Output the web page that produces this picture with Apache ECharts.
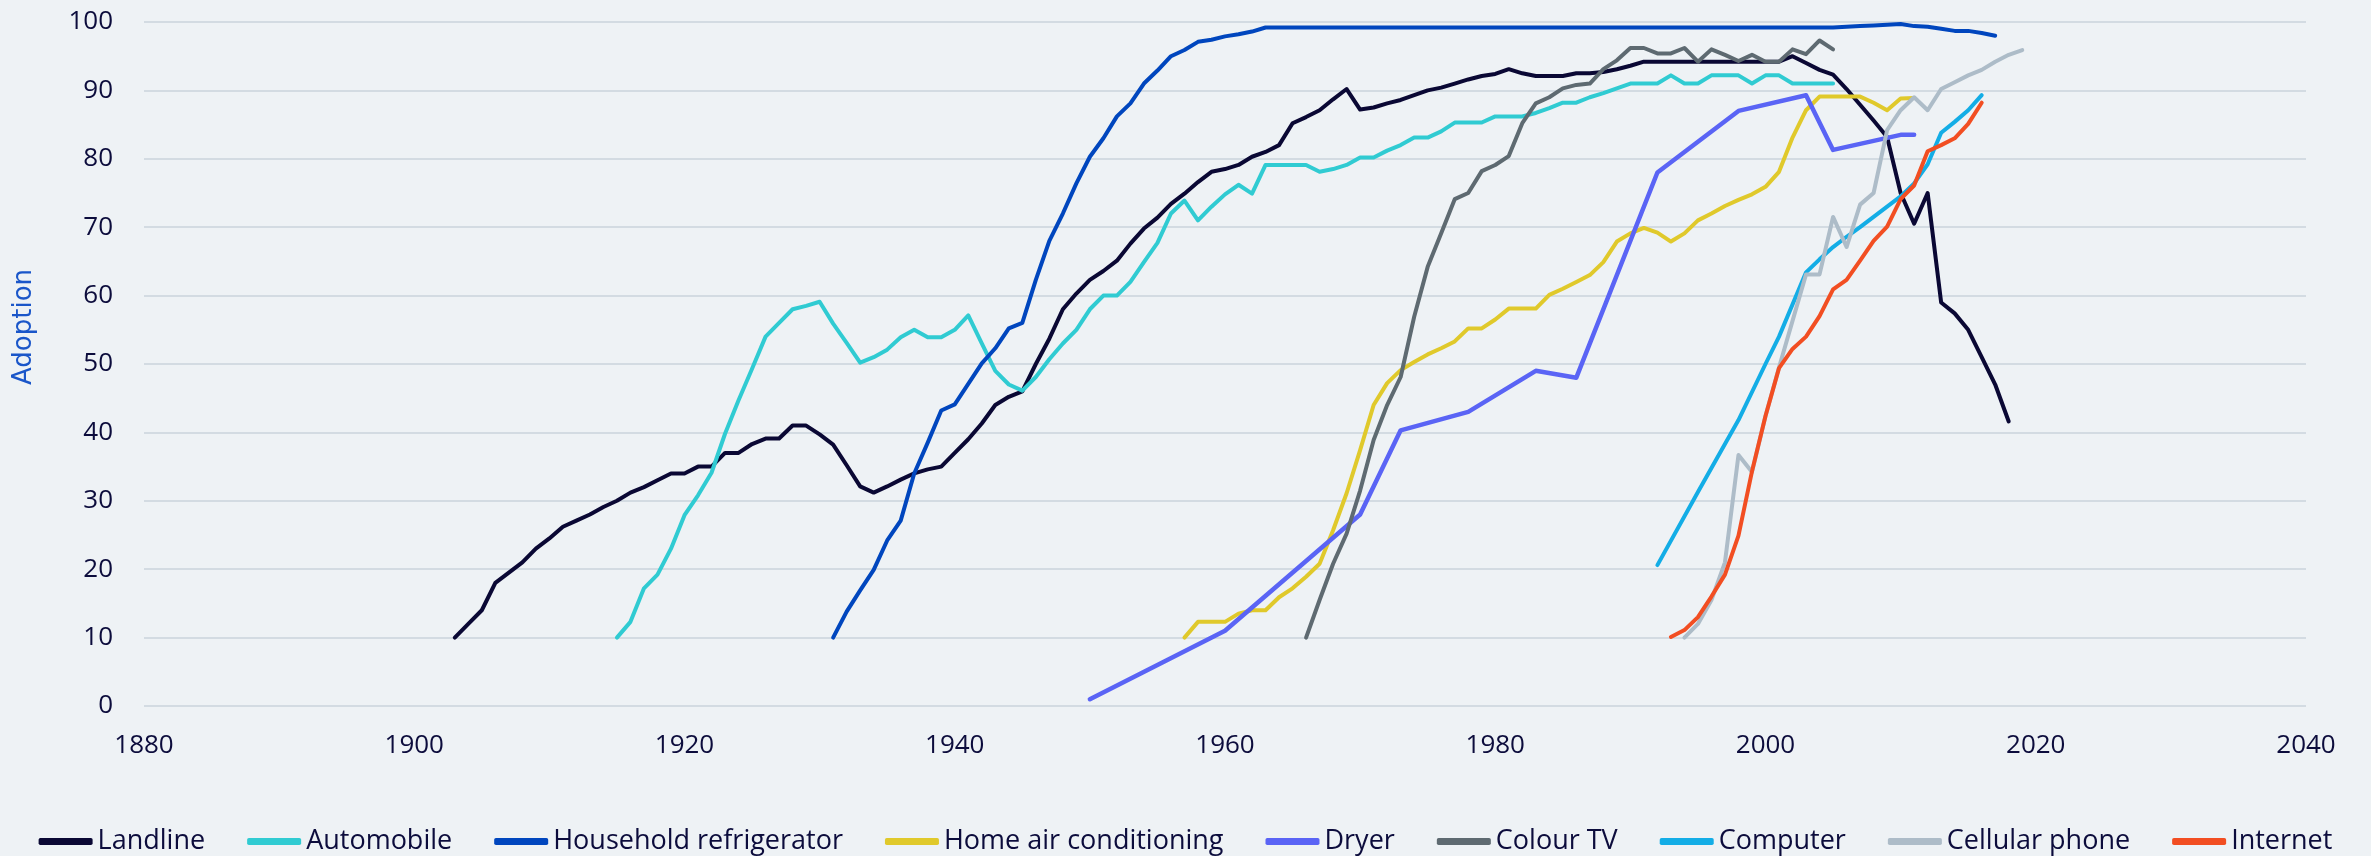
<!DOCTYPE html>
<html>
<head>
<meta charset="utf-8">
<title>Technology adoption</title>
<script src="https://cdn.jsdelivr.net/npm/echarts@6.0.0/dist/echarts.min.js"></script>
<style>
    html, body { margin: 0; padding: 0; background: #eef2f5; }
    #adoption { width: 2371px; height: 856px; }
</style>
</head>
<body>
<div id="adoption"></div>
<script>
// [year, share of households in %]
var landline = [
    [1903, 10], [1904, 12], [1905, 14], [1906, 18], [1907, 19.5], [1908, 21], [1909, 23], [1910, 24.5],
    [1911, 26.2], [1912, 27.1], [1913, 28], [1914, 29.1], [1915, 30], [1916, 31.2], [1917, 32], [1918, 33],
    [1919, 34], [1920, 34], [1921, 35], [1922, 35], [1923, 37], [1924, 37], [1925, 38.3], [1926, 39.1],
    [1927, 39.1], [1928, 41], [1929, 41], [1930, 39.7], [1931, 38.2], [1932, 35.2], [1933, 32.1], [1934, 31.2],
    [1935, 32.1], [1936, 33.1], [1937, 34], [1938, 34.6], [1939, 35], [1940, 37], [1941, 39], [1942, 41.3],
    [1943, 44], [1944, 45.2], [1945, 46], [1946, 50], [1947, 53.7], [1948, 58], [1949, 60.3], [1950, 62.3],
    [1951, 63.6], [1952, 65.1], [1953, 67.6], [1954, 69.8], [1955, 71.4], [1956, 73.4], [1957, 74.9], [1958, 76.6],
    [1959, 78.1], [1960, 78.5], [1961, 79.1], [1962, 80.3], [1963, 81], [1964, 82], [1965, 85.2], [1966, 86.1],
    [1967, 87.1], [1968, 88.7], [1969, 90.2], [1970, 87.2], [1971, 87.5], [1972, 88.1], [1973, 88.6], [1974, 89.3],
    [1975, 90], [1976, 90.4], [1977, 91], [1978, 91.6], [1979, 92.1], [1980, 92.4], [1981, 93.1], [1982, 92.5],
    [1983, 92.1], [1984, 92.1], [1985, 92.1], [1986, 92.5], [1987, 92.5], [1988, 92.7], [1989, 93.1], [1990, 93.6],
    [1991, 94.2], [2001, 94.2], [2002, 95], [2003, 94], [2004, 93], [2005, 92.3], [2006, 90.2], [2007, 87.9],
    [2008, 85.6], [2009, 83.2], [2010, 75], [2011, 70.5], [2012, 75], [2013, 59], [2014, 57.4], [2015, 55],
    [2016, 51], [2017, 47], [2018, 41.6]
];
var automobile = [
    [1915, 10], [1916, 12.3], [1917, 17.2], [1918, 19.2], [1919, 23], [1920, 27.9], [1921, 30.8], [1922, 34.1],
    [1923, 39.8], [1924, 44.7], [1925, 49.3], [1926, 54], [1927, 56], [1928, 58], [1929, 58.5], [1930, 59.1],
    [1931, 55.9], [1932, 53.1], [1933, 50.2], [1934, 51], [1935, 52.1], [1936, 53.9], [1937, 55], [1938, 53.9],
    [1939, 53.9], [1940, 55], [1941, 57.1], [1942, 53], [1943, 49], [1944, 47], [1945, 46.1], [1946, 48.1],
    [1947, 50.7], [1948, 53], [1949, 55], [1950, 58], [1951, 60], [1952, 60], [1953, 62], [1954, 64.9],
    [1955, 67.7], [1956, 72], [1957, 73.9], [1958, 71], [1959, 73], [1960, 74.8], [1961, 76.2], [1962, 74.9],
    [1963, 79.1], [1964, 79.1], [1965, 79.1], [1966, 79.1], [1967, 78.1], [1968, 78.5], [1969, 79.1], [1970, 80.2],
    [1971, 80.2], [1972, 81.2], [1973, 82], [1974, 83.1], [1975, 83.1], [1976, 84], [1977, 85.3], [1978, 85.3],
    [1979, 85.3], [1980, 86.2], [1981, 86.2], [1982, 86.2], [1983, 86.7], [1984, 87.4], [1985, 88.2], [1986, 88.2],
    [1987, 89], [1988, 89.6], [1989, 90.3], [1990, 91], [1991, 91], [1992, 91], [1993, 92.2], [1994, 91],
    [1995, 91], [1996, 92.2], [1997, 92.2], [1998, 92.2], [1999, 91], [2000, 92.2], [2001, 92.2], [2002, 91],
    [2003, 91], [2004, 91], [2005, 91]
];
var refrigerator = [
    [1931, 10], [1932, 13.8], [1933, 16.9], [1934, 19.9], [1935, 24.2], [1936, 27.1], [1937, 34], [1938, 38.5],
    [1939, 43.2], [1940, 44.1], [1941, 47.1], [1942, 50.1], [1943, 52.3], [1944, 55.2], [1945, 56], [1946, 62.3],
    [1947, 68], [1948, 72], [1949, 76.4], [1950, 80.3], [1951, 83], [1952, 86.2], [1953, 88.1], [1954, 91],
    [1955, 92.9], [1956, 95], [1957, 95.9], [1958, 97.1], [1959, 97.4], [1960, 97.9], [1961, 98.2], [1962, 98.6],
    [1963, 99.2], [2005, 99.2], [2006, 99.3], [2007, 99.4], [2008, 99.5], [2009, 99.6], [2010, 99.7], [2011, 99.4],
    [2012, 99.3], [2013, 99], [2014, 98.7], [2015, 98.7], [2016, 98.4], [2017, 98]
];
var airConditioning = [
    [1957, 10], [1958, 12.3], [1959, 12.3], [1960, 12.3], [1961, 13.5], [1962, 14], [1963, 14], [1964, 15.9],
    [1965, 17.2], [1966, 18.9], [1967, 20.8], [1968, 25.7], [1969, 31.1], [1970, 37.4], [1971, 44], [1972, 47.2],
    [1973, 49.1], [1974, 50.3], [1975, 51.4], [1976, 52.3], [1977, 53.3], [1978, 55.2], [1979, 55.2], [1980, 56.5],
    [1981, 58.1], [1982, 58.1], [1983, 58.1], [1984, 60.1], [1985, 61], [1986, 62], [1987, 63], [1988, 64.9],
    [1989, 67.9], [1990, 69.1], [1991, 69.9], [1992, 69.2], [1993, 67.9], [1994, 69.1], [1995, 71], [1996, 72],
    [1997, 73.1], [1998, 74], [1999, 74.8], [2000, 75.9], [2001, 78.1], [2002, 83.1], [2003, 87.1], [2004, 89.1],
    [2005, 89.1], [2006, 89.1], [2007, 89.1], [2008, 88.2], [2009, 87.1], [2010, 88.8], [2011, 88.9]
];
var dryer = [
    [1950, 1], [1960, 11], [1970, 28], [1973, 40.3], [1978, 43], [1983, 49], [1986, 48], [1992, 78],
    [1998, 87], [2003, 89.3], [2005, 81.3], [2010, 83.5], [2011, 83.5]
];
var colourTv = [
    [1966, 10], [1967, 15.5], [1968, 20.8], [1969, 25.2], [1970, 31.5], [1971, 38.9], [1972, 44], [1973, 48.1],
    [1974, 56.9], [1975, 64.2], [1976, 69.1], [1977, 74.1], [1978, 75], [1979, 78.2], [1980, 79.1], [1981, 80.4],
    [1982, 85.2], [1983, 88.1], [1984, 89], [1985, 90.3], [1986, 90.8], [1987, 91], [1988, 93.1], [1989, 94.4],
    [1990, 96.2], [1991, 96.2], [1992, 95.4], [1993, 95.4], [1994, 96.2], [1995, 94.2], [1996, 96], [1997, 95.2],
    [1998, 94.3], [1999, 95.2], [2000, 94.2], [2001, 94.2], [2002, 96], [2003, 95.3], [2004, 97.3], [2005, 96]
];
var computer = [
    [1992, 20.6], [1995, 31.3], [1998, 41.8], [2000, 50], [2001, 54], [2003, 63.4], [2004, 65.3], [2005, 67.1],
    [2006, 68.6], [2007, 70], [2008, 71.5], [2009, 73], [2010, 74.5], [2011, 76.4], [2012, 79.2], [2013, 83.8],
    [2014, 85.4], [2015, 87.1], [2016, 89.3]
];
var cellularPhone = [
    [1994, 10], [1995, 12], [1996, 15.5], [1997, 21], [1998, 36.7], [1999, 34.2], [2000, 42.4], [2001, 49.5],
    [2002, 56.3], [2003, 63.1], [2004, 63.1], [2005, 71.5], [2006, 67.1], [2007, 73.3], [2008, 75], [2009, 84.2],
    [2010, 87.1], [2011, 89], [2012, 87.1], [2013, 90.2], [2014, 91.2], [2015, 92.2], [2016, 93], [2017, 94.2],
    [2018, 95.2], [2019, 95.9]
];
var internet = [
    [1993, 10.1], [1994, 11.1], [1995, 13], [1996, 16], [1997, 19.2], [1998, 24.9], [1999, 34.3], [2000, 42.4],
    [2001, 49.4], [2002, 52.2], [2003, 54], [2004, 57], [2005, 60.9], [2006, 62.3], [2007, 65.1], [2008, 68],
    [2009, 70.1], [2010, 74.1], [2011, 76.1], [2012, 81.1], [2013, 82], [2014, 83], [2015, 85.1], [2016, 88.2]
];

var seriesNames = ['Landline', 'Automobile', 'Household refrigerator', 'Home air conditioning', 'Dryer',
    'Colour TV', 'Computer', 'Cellular phone', 'Internet'];
var seriesData = [landline, automobile, refrigerator, airConditioning, dryer, colourTv, computer, cellularPhone, internet];
var seriesColors = ['#0a0834', '#30cbd2', '#0046be', '#e0c92b', '#5a64f5', '#5e6a71', '#13ade6', '#adbcc8', '#f24e22'];

var textColor = '#0c0c3c';
var labelFont = '"Open Sans", sans-serif';

var myChart = echarts.init(document.querySelector('#adoption'), null, {renderer: 'canvas'});

var series = seriesNames.map(function (name, i) {
    return {
        name: name,
        type: 'line',
        data: seriesData[i],
        showSymbol: false,
        symbol: 'none',
        lineStyle: {
            width: i === 4 ? 4.5 : 4,
            cap: 'round',
            join: 'round'
        }
    };
});

var option = {
    backgroundColor: '#eef2f5',
    animation: false,
    color: seriesColors,
    grid: {
        left: 144,
        right: 65,
        top: 22,
        bottom: 150
    },
    legend: {
        data: seriesNames,
        left: 'center',
        top: 828,
        padding: 0,
        icon: 'roundRect',
        itemWidth: 54,
        itemHeight: 7,
        itemGap: 42,
        textStyle: {
            color: textColor,
            fontSize: 27,
            fontFamily: labelFont
        }
    },
    xAxis: {
        type: 'value',
        min: 1880,
        max: 2040,
        interval: 20,
        axisLine: {show: false},
        axisTick: {show: false},
        splitLine: {show: false},
        axisLabel: {
            color: textColor,
            fontSize: 26,
            fontFamily: labelFont,
            margin: 27,
            formatter: function (value) {
                return String(value);
            }
        }
    },
    yAxis: {
        type: 'value',
        min: 0,
        max: 100,
        interval: 10,
        name: 'Adoption',
        nameLocation: 'middle',
        nameGap: 107,
        nameRotate: 90,
        nameTextStyle: {
            color: '#1a56c9',
            fontSize: 26,
            fontFamily: '"DejaVu Sans", sans-serif',
            padding: [0, 0, 0, 74]
        },
        axisLine: {show: false},
        axisTick: {show: false},
        splitLine: {
            lineStyle: {color: '#d3dbe2', width: 2}
        },
        axisLabel: {
            color: textColor,
            fontSize: 26,
            fontFamily: labelFont,
            margin: 31
        }
    },
    series: series
};

myChart.setOption(option);
</script>
</body>
</html>
